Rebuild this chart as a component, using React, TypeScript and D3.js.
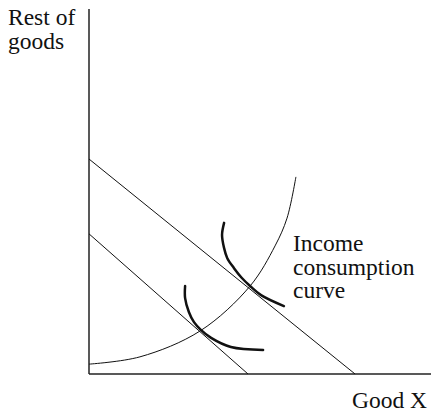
import React from 'react';
import * as d3 from 'd3';

// budget lines: [y-intercept, x-intercept] in chart units
const budgetOuter: [number, number][] = [[0, 58.9], [77.8, 0]];
const budgetInner: [number, number][] = [[0, 38.4], [46.5, 0]];

// income consumption curve
const iccX = [0, 14.9, 32.5, 47.1, 54.4, 57.9, 60.5];
const iccY = [2.7, 4.7, 11.8, 24.1, 35.1, 42.7, 54.0];

// indifference curves
const icHighX = [39.5, 38.9, 39.5, 40.4, 42.4, 44.7, 47.1, 50.3, 57.0];
const icHighY = [41.4, 38.1, 34.5, 31.8, 29.0, 26.3, 24.1, 21.6, 18.6];
const icLowX = [28.1, 28.1, 29.2, 30.7, 32.7, 35.7, 41.5, 50.9];
const icLowY = [24.1, 20.8, 17.0, 14.2, 12.1, 9.9, 7.4, 6.6];

const yLabel = ['Rest of', 'goods'];
const xLabel = 'Good X';
const iccLabel = ['Income', 'consumption', 'curve'];

const W = 431;
const H = 412;

const App: React.FC = () => {
  const x = d3.scaleLinear().domain([0, 100]).range([89, 431]);
  const y = d3.scaleLinear().domain([0, 100]).range([374, 9]);

  const zip = (xs: number[], ys: number[]) => xs.map((v, i) => [v, ys[i]] as [number, number]);

  const straight = d3
    .line<[number, number]>()
    .x((d) => x(d[0]))
    .y((d) => y(d[1]));

  const smooth = d3
    .line<[number, number]>()
    .x((d) => x(d[0]))
    .y((d) => y(d[1]))
    .curve(d3.curveCatmullRom.alpha(0.5));

  const textStyle: React.CSSProperties = {
    fontFamily: "'Liberation Serif', 'Times New Roman', serif",
    fontSize: '23.5px',
    fill: '#111',
  };

  return (
    <svg
      width={W}
      height={H}
      style={{ position: 'absolute', left: 0, top: 0, background: '#fff' }}
    >
      {/* axes */}
      <line x1={x(0)} y1={y(100)} x2={x(0)} y2={y(0)} stroke="#222" strokeWidth={1.5} />
      <line x1={x(0)} y1={y(0)} x2={x(100)} y2={y(0)} stroke="#222" strokeWidth={1.5} />

      <path d={straight(budgetOuter) || ''} fill="none" stroke="#111" strokeWidth={1} />
      <path d={straight(budgetInner) || ''} fill="none" stroke="#111" strokeWidth={1} />

      <path d={smooth(zip(iccX, iccY)) || ''} fill="none" stroke="#111" strokeWidth={1} />

      <path d={smooth(zip(icHighX, icHighY)) || ''} fill="none" stroke="#111" strokeWidth={2.5} strokeLinecap="round" />
      <path d={smooth(zip(icLowX, icLowY)) || ''} fill="none" stroke="#111" strokeWidth={2.5} strokeLinecap="round" />

      <g>
        {yLabel.map((t, i) => (
          <text key={t} x={8} y={25 + i * 24} style={textStyle}>
            {t}
          </text>
        ))}
        <text x={427} y={408} textAnchor="end" style={textStyle}>
          {xLabel}
        </text>
        {iccLabel.map((t, i) => (
          <text key={t} x={293} y={251 + i * 23.5} style={textStyle}>
            {t}
          </text>
        ))}
      </g>
    </svg>
  );
};

export default App;
